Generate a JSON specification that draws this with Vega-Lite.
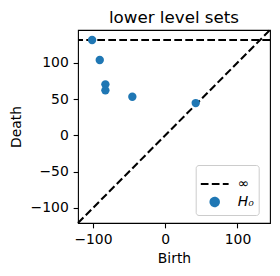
{
  "$schema": "https://vega.github.io/schema/vega-lite/v6.json",
  "autosize": "none",
  "width": 192,
  "height": 193,
  "padding": {"left": 78, "top": 30, "right": 10, "bottom": 53},
  "title": {"text": "lower level sets", "fontSize": 16.7, "fontWeight": "normal", "font": "DejaVu Sans", "color": "black", "baseline": "bottom", "offset": 5, "dy": 20},
  "datasets": {
    "points": [
      {"birth": -101.2, "death": 131.3, "kind": "H₀"},
      {"birth": -90.6, "death": 103.7, "kind": "H₀"},
      {"birth": -82.8, "death": 70.2, "kind": "H₀"},
      {"birth": -82.8, "death": 61.9, "kind": "H₀"},
      {"birth": -45.5, "death": 53.1, "kind": "H₀"},
      {"birth": 42.2, "death": 44.4, "kind": "H₀"}
    ],
    "inf": [{"death": 131.3, "kind": "∞"}],
    "diag": [{"b0": -120.7, "d0": -120.7, "b1": 145, "d1": 145}]
  },
  "layer": [
    {
      "data": {"name": "diag"},
      "mark": {"type": "rule", "color": "black", "strokeWidth": 2.08, "strokeDash": [7.7, 3.3]},
      "encoding": {
        "x": {"field": "b0", "type": "quantitative", "title": "Birth"},
        "y": {"field": "d0", "type": "quantitative", "title": "Death"},
        "x2": {"field": "b1"},
        "y2": {"field": "d1"}
      }
    },
    {
      "data": {"name": "inf"},
      "mark": {"type": "rule", "strokeWidth": 2.08},
      "encoding": {
        "y": {"field": "death", "type": "quantitative", "title": "Death"},
        "color": {"field": "kind", "type": "nominal", "legend": {"title": null},
                  "scale": {"domain": ["∞", "H₀"], "range": ["black", "#1f77b4"]}},
        "strokeDash": {"field": "kind", "type": "nominal", "legend": {"title": null},
                       "scale": {"domain": ["∞", "H₀"], "range": [[7.7, 3.3], [1, 0]]}}
      }
    },
    {
      "data": {"name": "points"},
      "mark": {"type": "point", "filled": true, "opacity": 1},
      "encoding": {
        "x": {"field": "birth", "type": "quantitative", "title": "Birth",
              "scale": {"domain": [-120.7, 145], "nice": false, "zero": false},
              "axis": {"values": [-100, 0, 100]}},
        "y": {"field": "death", "type": "quantitative", "title": "Death",
              "scale": {"domain": [-120.7, 145], "nice": false, "zero": false},
              "axis": {"values": [-100, -50, 0, 50, 100], "titlePadding": 7}},
        "color": {"field": "kind", "type": "nominal", "legend": {"title": null},
                  "scale": {"domain": ["∞", "H₀"], "range": ["black", "#1f77b4"]}},
        "shape": {"field": "kind", "type": "nominal", "legend": {"title": null},
                  "scale": {"domain": ["∞", "H₀"], "range": ["stroke", "circle"]}},
        "size": {"field": "kind", "type": "nominal", "legend": {"title": null},
                 "scale": {"domain": ["∞", "H₀"], "range": [773, 70]}}
      }
    }
  ],
  "config": {
    "font": "DejaVu Sans",
    "view": {"stroke": "black", "strokeWidth": 1.1},
    "legend": {
      "orient": "none",
      "legendX": 117.7,
      "legendY": 135,
      "padding": 4,
      "strokeColor": "#cccccc",
      "fillColor": "white",
      "cornerRadius": 2.8,
      "symbolStrokeWidth": 2.08,
      "labelFont": "DejaVu Sans",
      "labelFontSize": 13.9,
      "labelFontStyle": "italic",
      "labelColor": "black",
      "labelOffset": 8,
      "rowPadding": 2
    },
    "axis": {
      "domain": false,
      "grid": false,
      "tickColor": "black",
      "tickWidth": 1.1,
      "tickSize": 4.86,
      "labelPadding": 4.86,
      "labelFont": "DejaVu Sans",
      "labelFontSize": 13.9,
      "labelColor": "black",
      "titleFont": "DejaVu Sans",
      "titleFontSize": 13.9,
      "titleFontWeight": "normal",
      "titleColor": "black",
      "titlePadding": 5
    }
  }
}
